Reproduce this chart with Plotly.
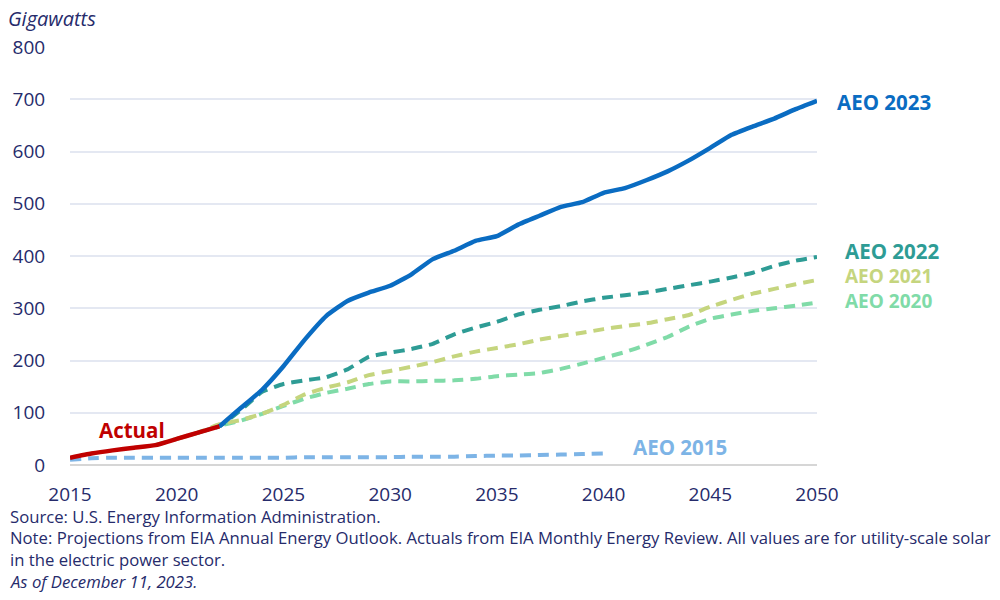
import plotly.graph_objects as go

# ---------------- data ----------------
years_actual = [2015, 2016, 2017, 2018, 2019, 2020, 2021, 2022]
actual = [14, 22, 28, 33, 38, 50, 62, 74]

years_2023 = list(range(2022, 2051))
aeo2023 = [74, 109, 144, 189, 240, 285, 314, 330, 343, 365, 394, 410, 429, 438, 460,
           477, 494, 503, 521, 530, 545, 562, 583, 607, 632, 648, 663, 681, 697]

years_2022 = list(range(2021, 2051))
aeo2022 = [62, 74, 105, 140, 155, 162, 168, 183, 207, 215, 222, 232, 250, 263, 274, 288,
           297, 304, 313, 320, 325, 330, 337, 344, 351, 359, 368, 381, 391, 398]

years_2021 = list(range(2020, 2051))
aeo2021 = [50, 62, 78, 86, 98, 115, 135, 148, 158, 172, 180, 188, 197, 208, 217, 224,
           231, 240, 247, 253, 260, 266, 271, 279, 287, 303, 316, 328, 337, 346, 354]

years_2020 = list(range(2019, 2051))
aeo2020 = [38, 50, 62, 75, 85, 98, 113, 127, 138, 146, 155, 160, 160, 161, 162, 165, 170,
           173, 176, 184, 194, 205, 216, 230, 245, 265, 280, 288, 295, 300, 305, 311]

years_2015 = list(range(2015, 2041))
aeo2015 = [10, 13, 14, 14, 14, 14, 14, 14, 14, 14, 14, 15, 15, 15, 15, 15, 16, 16, 16,
           17, 18, 18, 19, 20, 21, 22]

x_ticks = [2015, 2020, 2025, 2030, 2035, 2040, 2045, 2050]
y_ticks = [0, 100, 200, 300, 400, 500, 600, 700, 800]

series_names = ["AEO 2023", "AEO 2022", "AEO 2021", "AEO 2020", "AEO 2015", "Actual"]

# ---------------- style ----------------
FONT = "Open Sans"
TXT = "#262b6b"
C2023 = "#0a6cc2"
C2022 = "#2e9c95"
C2021 = "#c5d57e"
C2020 = "#80dba8"
C2015 = "#7db4e6"
CACT = "#c00000"

W, H = 1000, 600
L, R, T, B = 70, 183, 47, 135
PH = H - T - B
PW = W - L - R


def py(ypix):
    return (H - B - ypix) / PH


def px(xpix):
    return (xpix - L) / PW


fig = go.Figure()
dash = "11px,7px"
sm = 0.4
fig.add_trace(go.Scatter(x=years_2015, y=aeo2015, mode="lines", name="AEO 2015",
                         line=dict(color=C2015, width=4, dash=dash, shape="spline", smoothing=sm)))
fig.add_trace(go.Scatter(x=years_2020, y=aeo2020, mode="lines", name="AEO 2020",
                         line=dict(color=C2020, width=4, dash=dash, shape="spline", smoothing=sm)))
fig.add_trace(go.Scatter(x=years_2021, y=aeo2021, mode="lines", name="AEO 2021",
                         line=dict(color=C2021, width=4, dash=dash, shape="spline", smoothing=sm)))
fig.add_trace(go.Scatter(x=years_2022, y=aeo2022, mode="lines", name="AEO 2022",
                         line=dict(color=C2022, width=4, dash=dash, shape="spline", smoothing=sm)))
fig.add_trace(go.Scatter(x=years_2023, y=aeo2023, mode="lines", name="AEO 2023",
                         line=dict(color=C2023, width=4.5, shape="spline", smoothing=sm)))
fig.add_trace(go.Scatter(x=years_actual, y=actual, mode="lines", name="Actual",
                         line=dict(color=CACT, width=4.5, shape="spline", smoothing=sm)))

ann = []
# series labels: (left x pixel, center y pixel, colour, font size)
lab_pos = {
    "AEO 2023": (835, 102, C2023, 20.5),
    "AEO 2022": (843, 251, C2022, 20.5),
    "AEO 2021": (843, 276, C2021, 19),
    "AEO 2020": (843, 301, C2020, 19),
    "AEO 2015": (631, 447, C2015, 20.5),
    "Actual": (97, 430, CACT, 20.5),
}
for name in series_names:
    xx, yy, col, fs = lab_pos[name]
    ann.append(dict(x=px(xx), y=py(yy), xref="paper", yref="paper", text=f"<b>{name}</b>",
                    showarrow=False, xanchor="left", yanchor="middle",
                    font=dict(family=FONT, size=fs, color=col)))

ann.append(dict(x=px(6), y=py(18), xref="paper", yref="paper", text="<i>Gigawatts</i>",
                showarrow=False, xanchor="left", yanchor="middle",
                font=dict(family=FONT, size=20, color=TXT)))

foot = [
    ("Source: U.S. Energy Information Administration.", 516),
    ("Note: Projections from EIA Annual Energy Outlook. Actuals from EIA Monthly Energy Review. All values are for utility-scale solar", 537),
    ("in the electric power sector.", 559),
    ("<i>As of December 11, 2023.</i>", 581),
]
for t, yy in foot:
    ann.append(dict(x=px(8), y=py(yy), xref="paper", yref="paper", text=t, showarrow=False,
                    xanchor="left", yanchor="middle",
                    font=dict(family=FONT, size=16.7, color=TXT)))

fig.update_layout(
    width=W, height=H,
    margin=dict(l=L, r=R, t=T, b=B, autoexpand=False),
    paper_bgcolor="white", plot_bgcolor="white",
    showlegend=False,
    font=dict(family=FONT, color=TXT),
    annotations=ann,
    xaxis=dict(range=[2015, 2050], tickvals=x_ticks, ticktext=[str(v) for v in x_ticks],
               showgrid=False, zeroline=False, showline=False,
               ticks="outside", ticklen=12, tickcolor="rgba(0,0,0,0)",
               tickfont=dict(family=FONT, size=19, color=TXT)),
    yaxis=dict(range=[0, 800], tickvals=y_ticks, ticktext=[str(v) for v in y_ticks],
               showgrid=True, gridcolor="#e4e8f2", gridwidth=1.5,
               zeroline=True, zerolinecolor="#d6d6d6", zerolinewidth=2,
               showline=False, ticks="outside", ticklen=20, tickcolor="rgba(0,0,0,0)",
               tickfont=dict(family=FONT, size=19, color=TXT)),
)

fig.write_html("out.html", config={"displayModeBar": False},
               post_script="document.body.style.margin='0px';")
